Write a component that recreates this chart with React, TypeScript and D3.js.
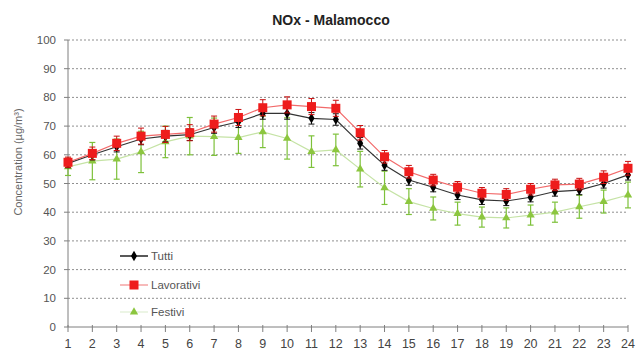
import React from "react";
import * as d3 from "d3";

const hours = d3.range(1, 25);
const yTicks = [0, 10, 20, 30, 40, 50, 60, 70, 80, 90, 100];

const tutti = [57, 60, 62.8, 65.5, 66.5, 67, 69.5, 71.5, 74.4, 74.4, 72.7, 72.3, 64, 56.4, 51.2, 48.7, 46, 44.3, 43.9, 45.2, 47.2, 47.7, 50, 53];
const tuttiErr = [1.5, 1.8, 1.8, 2, 2, 2, 2, 2, 2, 2, 2, 2, 2, 1.8, 1.8, 1.6, 1.6, 1.6, 1.6, 1.6, 1.6, 1.6, 1.6, 1.8];
const lavorativi = [57.4, 60.5, 64, 66.5, 67.1, 67.7, 70.7, 73, 76.4, 77.4, 76.8, 76.2, 67.7, 59.3, 54.1, 51.2, 48.7, 46.6, 46.2, 48, 49.5, 49.8, 52.2, 55.3];
const lavorativiErr = [1.8, 2.2, 2.5, 2.8, 2.8, 2.8, 2.8, 2.8, 2.8, 2.8, 2.8, 2.8, 2.5, 2.2, 2.2, 2, 2, 2, 2, 2, 2, 2, 2.2, 2.4];
const festivi = [55.8, 57.8, 58.5, 61, 64.5, 66.5, 66.3, 66, 68, 65.7, 61.1, 61.7, 55, 48.5, 43.7, 41.3, 39.5, 38.3, 38, 39, 40, 41.9, 43.7, 46];
const festiviErr = [3, 6.5, 7, 7.2, 5.5, 6.5, 6.5, 5.5, 5.5, 7.2, 5.5, 5.5, 6.2, 5.8, 4.5, 4, 4, 3.5, 3.5, 3.5, 3.5, 4, 4, 4.5];

const title = "NOx - Malamocco";
const yTitle = "Concentration (µg/m³)";
const legendLabels = ["Tutti", "Lavorativi", "Festivi"];

const W = 642;
const H = 356;
const left = 68;
const right = 628;
const top = 40;
const bottom = 327;

export default function App() {
  const x = d3.scaleLinear().domain([1, 24]).range([left, right]);
  const y = d3.scaleLinear().domain([0, 100]).range([bottom, top]);
  const line = d3
    .line<number>()
    .x((_, i) => x(hours[i]))
    .y((d) => y(d));

  const font = "Arial, 'Liberation Sans', sans-serif";
  const greenMarker = "#8cc63f";
  const greenLine = "#c5e3a5";
  const greenErr = "#7dc13a";
  const red = "#ee1c1c";
  const redLine = "#f26a6a";

  const errBars = (vals: number[], errs: number[], color: string, cap: number, sw: number) =>
    vals.map((v, i) => {
      const cx = x(hours[i]);
      const y1 = y(v + errs[i]);
      const y2 = y(v - errs[i]);
      return (
        <g key={i} stroke={color} strokeWidth={sw}>
          <line x1={cx} x2={cx} y1={y1} y2={y2} />
          <line x1={cx - cap} x2={cx + cap} y1={y1} y2={y1} />
          <line x1={cx - cap} x2={cx + cap} y1={y2} y2={y2} />
        </g>
      );
    });

  const triangle = d3.symbol(d3.symbolTriangle, 30)();
  const diamond = d3.symbol(d3.symbolDiamond, 32)();

  return (
    <svg
      width={W}
      height={H}
      style={{ position: "absolute", left: 0, top: 0, background: "#fff" }}
      fontFamily={font}
    >
      <rect width={W} height={H} fill="#fff" />
      {yTicks.filter((t) => t > 0).map((t) => (
        <line
          key={t}
          x1={left}
          x2={right}
          y1={y(t)}
          y2={y(t)}
          stroke="#8f8f8f"
          strokeWidth={1}
          strokeDasharray="2,2"
        />
      ))}
      <line x1={left} x2={left} y1={top} y2={bottom} stroke="#7f7f7f" />
      <line x1={left} x2={right} y1={bottom} y2={bottom} stroke="#7f7f7f" />
      {yTicks.map((t) => (
        <g key={t}>
          <line x1={left - 4} x2={left} y1={y(t)} y2={y(t)} stroke="#7f7f7f" />
          <text x={56} y={y(t)} dy="0.35em" textAnchor="end" fontSize={11.5} fill="#555">
            {t}
          </text>
        </g>
      ))}
      {hours.map((h) => (
        <g key={h}>
          <line x1={x(h)} x2={x(h)} y1={bottom - 2} y2={bottom + 5} stroke="#7f7f7f" />
          <text x={x(h)} y={348} textAnchor="middle" fontSize={12.5} fill="#444">
            {h}
          </text>
        </g>
      ))}
      <text x={331} y={25} textAnchor="middle" fontSize={14} fontWeight="bold" fill="#222">
        {title}
      </text>
      <text
        transform="translate(22,162) rotate(-90)"
        textAnchor="middle"
        fontSize={11}
        fill="#666"
      >
        {yTitle}
      </text>

      <path d={line(festivi) || ""} fill="none" stroke={greenLine} strokeWidth={1.2} />
      {errBars(festivi, festiviErr, greenErr, 3, 1.2)}
      {festivi.map((v, i) => (
        <path key={i} d={triangle || ""} transform={`translate(${x(hours[i])},${y(v)})`} fill={greenMarker} />
      ))}

      <path d={line(tutti) || ""} fill="none" stroke="#333" strokeWidth={1.2} />
      {errBars(tutti, tuttiErr, "#111", 3, 1)}
      {tutti.map((v, i) => (
        <path key={i} d={diamond || ""} transform={`translate(${x(hours[i])},${y(v)})`} fill="#000" />
      ))}

      <path d={line(lavorativi) || ""} fill="none" stroke={redLine} strokeWidth={1.2} />
      {errBars(lavorativi, lavorativiErr, "#c81010", 3, 1)}
      {lavorativi.map((v, i) => (
        <rect key={i} x={x(hours[i]) - 4.5} y={y(v) - 4.5} width={9} height={9} fill={red} />
      ))}

      {legendLabels.map((lab, i) => {
        const ly = [256, 285, 312][i];
        const lineColor = ["#222", "#f5a3a3", "#e6f2dc"][i];
        return (
          <g key={lab}>
            <line x1={120} x2={148} y1={ly} y2={ly} stroke={lineColor} strokeWidth={1.5} />
            {i === 0 && <path d={diamond || ""} transform={`translate(134,${ly})`} fill="#000" />}
            {i === 1 && <rect x={129.5} y={ly - 4.5} width={9} height={9} fill={red} />}
            {i === 2 && <path d={triangle || ""} transform={`translate(134,${ly})`} fill={greenMarker} />}
            <text x={151} y={ly} dy="0.35em" fontSize={11.5} fill="#555">
              {lab}
            </text>
          </g>
        );
      })}
    </svg>
  );
}
